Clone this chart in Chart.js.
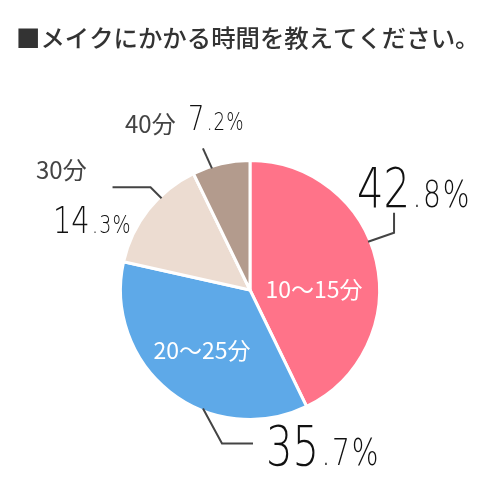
<!DOCTYPE html>
<html>
<head>
<meta charset="utf-8">
<script src="https://cdn.jsdelivr.net/npm/chart.js@4.4.1/dist/chart.umd.min.js"></script>
<style>
  html, body { margin: 0; padding: 0; background: #fff; }
  #wrap { width: 500px; height: 500px; }
</style>
</head>
<body>
<div id="wrap"><canvas id="makeupPie" width="500" height="500"></canvas></div>
<script>
// data
const title = '■メイクにかかる時間を教えてください。';
const categories = ['10〜15分', '20〜25分', '30分', '40分'];
const shares = [42.8, 35.7, 14.3, 7.2];
const colors = ['#ff7389', '#5ea9e8', '#ecdcd1', '#b39b8d'];

// where each label goes (inside = white text on the slice)
const labelLayout = [
    { inside: true, nameX: 314, nameY: 289, pctX: 357, pctY: 207, big: 55, small: 37,
      at: 0.44, leg: [[26, -9], [26, -29]] },
    { inside: true, nameX: 202, nameY: 350, pctX: 266, pctY: 465, big: 55, small: 37,
      at: 0.37, leg: [[19, 35], [50, 35]] },
    { inside: false, nameX: 36, nameY: 170, pctX: 53, pctY: 233, big: 38, small: 25,
      at: 0.65, leg: [[-11, -11], [-49, -11]] },
    { inside: false, nameX: 125, nameY: 124, pctX: 188, pctY: 130, big: 34, small: 24,
      at: 0.33, leg: [[-9, -20]] }
];

const pctFont = '"DejaVu Sans", sans-serif';
const jpFont = '"Noto Sans CJK JP", "Noto Sans", sans-serif';

function drawPct(ctx, value, l) {
    const parts = value.toFixed(1).split('.');
    const sx = 0.76;
    ctx.save();
    ctx.translate(l.pctX, l.pctY);
    ctx.scale(sx, 1);
    ctx.fillStyle = '#111';
    ctx.textBaseline = 'alphabetic';
    ctx.textAlign = 'left';
    ctx.font = '200 ' + l.big + 'px ' + pctFont;
    ctx.fillText(parts[0], 0, 0);
    let x = ctx.measureText(parts[0]).width + 3;
    ctx.font = '200 ' + l.small + 'px ' + pctFont;
    ['.', parts[1], '%'].forEach(s => {
        ctx.fillText(s, x, 0);
        x += ctx.measureText(s).width + l.small * 0.06;
    });
    ctx.restore();
}

const labelPlugin = {
    id: 'labels',
    afterDraw(chart) {
        const ctx = chart.ctx;
        // title
        ctx.save();
        ctx.fillStyle = '#333';
        ctx.font = '500 24.4px ' + jpFont;
        ctx.textBaseline = 'middle';
        ctx.fillText(title, 16, 38);
        ctx.restore();

        const arcs = chart.getDatasetMeta(0).data;
        arcs.forEach((arc, i) => {
            const l = labelLayout[i];
            const p = arc.getProps(['x', 'y', 'startAngle', 'endAngle', 'outerRadius'], true);
            const a = p.startAngle + (p.endAngle - p.startAngle) * l.at;
            const r = p.outerRadius - 2;
            const sx = p.x + Math.cos(a) * r;
            const sy = p.y + Math.sin(a) * r;
            ctx.save();
            ctx.strokeStyle = '#444';
            ctx.lineWidth = 2;
            ctx.beginPath();
            ctx.moveTo(sx, sy);
            l.leg.forEach(d => ctx.lineTo(sx + d[0], sy + d[1]));
            ctx.stroke();

            if (l.inside) {
                ctx.fillStyle = '#fff';
                ctx.textAlign = 'center';
                ctx.font = '400 23px ' + jpFont;
            } else {
                ctx.fillStyle = '#444';
                ctx.textAlign = 'left';
                ctx.font = '400 24px ' + jpFont;
            }
            ctx.textBaseline = 'middle';
            ctx.fillText(categories[i], l.nameX, l.nameY);
            ctx.restore();

            drawPct(ctx, shares[i], l);
        });
    }
};

new Chart(document.getElementById('makeupPie'), {
    type: 'pie',
    data: {
        labels: categories,
        datasets: [{
            data: shares,
            backgroundColor: colors,
            borderColor: '#fff',
            borderWidth: 3,
            hoverOffset: 0
        }]
    },
    options: {
        responsive: false,
        animation: false,
        devicePixelRatio: 1,
        layout: { padding: { top: 159, bottom: 79, left: 0, right: 0 } },
        plugins: { legend: { display: false }, tooltip: { enabled: false } }
    },
    plugins: [labelPlugin]
});
</script>
</body>
</html>
